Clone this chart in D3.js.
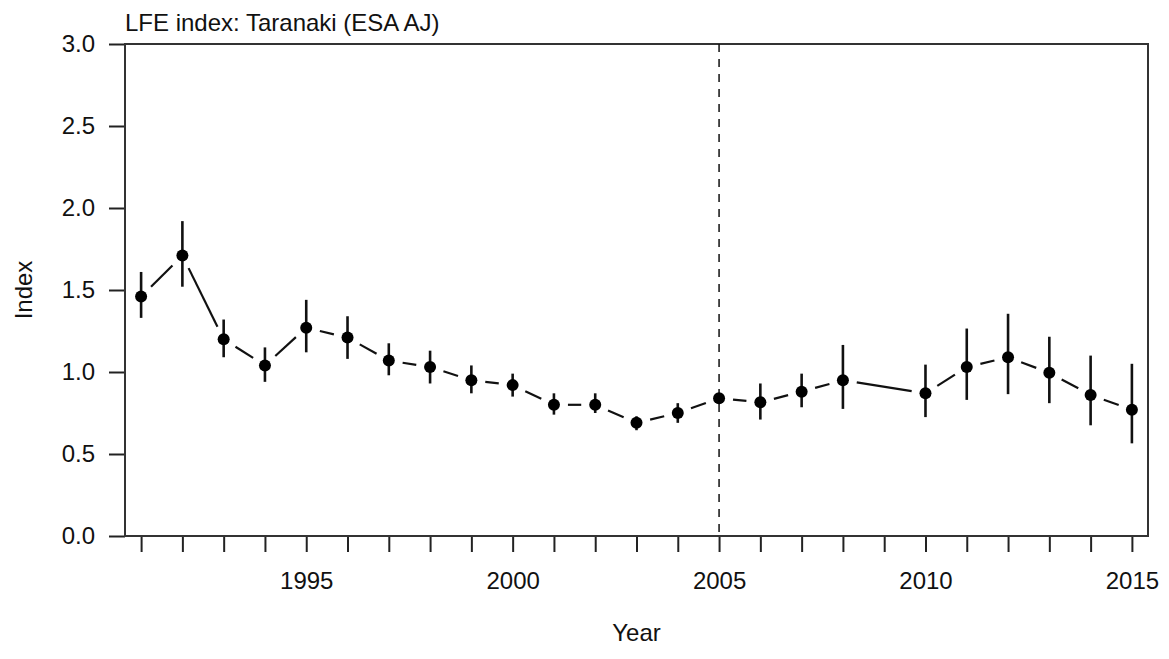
<!DOCTYPE html>
<html>
<head>
<meta charset="utf-8">
<script src="https://cdn.jsdelivr.net/npm/d3@7"></script>
<style>
  body { margin: 0; background: #fff; }
  text { font-family: "Liberation Sans", Arial, sans-serif; fill: #111; }
</style>
</head>
<body>
<script>
// Data (2009 has no estimate)
const years = [1991, 1992, 1993, 1994, 1995, 1996, 1997, 1998, 1999, 2000, 2001, 2002,
               2003, 2004, 2005, 2006, 2007, 2008, 2010, 2011, 2012, 2013, 2014, 2015];
const index = [1.46, 1.71, 1.20, 1.04, 1.27, 1.21, 1.07, 1.03, 0.95, 0.92, 0.80, 0.80,
               0.69, 0.75, 0.84, 0.815, 0.88, 0.95, 0.87, 1.03, 1.09, 0.995, 0.86, 0.77];
const lower = [1.33, 1.52, 1.09, 0.94, 1.12, 1.08, 0.98, 0.93, 0.87, 0.85, 0.74, 0.75,
               0.645, 0.69, null, 0.71, 0.785, 0.775, 0.725, 0.83, 0.865, 0.81, 0.675, 0.565];
const upper = [1.61, 1.92, 1.32, 1.15, 1.44, 1.34, 1.175, 1.13, 1.04, 0.99, 0.87, 0.87,
               0.73, 0.81, null, 0.93, 0.99, 1.165, 1.045, 1.265, 1.355, 1.215, 1.10, 1.05];
const yTicks = [0, 0.5, 1.0, 1.5, 2.0, 2.5, 3.0];
const xTicks = d3.range(1991, 2016);
const refYear = 2005;
const title = "LFE index: Taranaki (ESA AJ)";

const W = 1169, H = 659;
const box = { left: 125, right: 1148, top: 44, bottom: 536 };

const svg = d3.select("body").append("svg")
  .attr("width", W).attr("height", H);

const x = d3.scaleLinear().domain([1990.61, 2015.39]).range([box.left, box.right]);
const y = d3.scaleLinear().domain([0, 3]).range([box.bottom, box.top]);

// axes
const xAxis = d3.axisBottom(x)
  .tickValues(xTicks)
  .tickSize(16)
  .tickPadding(20)
  .tickFormat(d => d % 5 === 0 ? d : "");
const yAxis = d3.axisLeft(y)
  .tickValues(yTicks)
  .tickSize(16)
  .tickPadding(14)
  .tickFormat(d3.format(".1f"));

const gx = svg.append("g").attr("transform", `translate(0,${box.bottom})`).call(xAxis);
const gy = svg.append("g").attr("transform", `translate(${box.left},0)`).call(yAxis);
[gx, gy].forEach(g => {
  g.select(".domain").remove();
  g.selectAll(".tick line").attr("stroke", "#222").attr("stroke-width", 2);
  g.selectAll(".tick text").style("font-size", "24px").attr("fill", "#111");
});

// plot box
svg.append("rect")
  .attr("x", box.left).attr("y", box.top)
  .attr("width", box.right - box.left).attr("height", box.bottom - box.top)
  .attr("fill", "none").attr("stroke", "#333").attr("stroke-width", 2);

// reference year
svg.append("line")
  .attr("x1", x(refYear)).attr("x2", x(refYear))
  .attr("y1", box.top).attr("y2", box.bottom)
  .attr("stroke", "#111").attr("stroke-width", 1.5)
  .attr("stroke-dasharray", "8,7");

const pts = years.map((yr, i) => ({ yr, v: index[i], lo: lower[i], hi: upper[i] }));

// connecting segments, type="b" style with gaps round points
const gap = 14;
for (let i = 0; i < pts.length - 1; i++) {
  const x1 = x(pts[i].yr), y1 = y(pts[i].v);
  const x2 = x(pts[i + 1].yr), y2 = y(pts[i + 1].v);
  const len = Math.hypot(x2 - x1, y2 - y1);
  if (len <= 2 * gap) continue;
  const ux = (x2 - x1) / len, uy = (y2 - y1) / len;
  svg.append("line")
    .attr("x1", x1 + ux * gap).attr("y1", y1 + uy * gap)
    .attr("x2", x2 - ux * gap).attr("y2", y2 - uy * gap)
    .attr("stroke", "#111").attr("stroke-width", 2.2);
}

// error bars
svg.selectAll(".err")
  .data(pts.filter(d => d.lo != null))
  .enter().append("line")
  .attr("class", "err")
  .attr("x1", d => x(d.yr)).attr("x2", d => x(d.yr))
  .attr("y1", d => y(d.lo)).attr("y2", d => y(d.hi))
  .attr("stroke", "#111").attr("stroke-width", 2.6);

// points
svg.selectAll(".pt")
  .data(pts)
  .enter().append("circle")
  .attr("class", "pt")
  .attr("cx", d => x(d.yr)).attr("cy", d => y(d.v))
  .attr("r", 6).attr("fill", "#000");

// labels
svg.append("text")
  .attr("x", box.left).attr("y", 31)
  .style("font-size", "24px")
  .text(title);

svg.append("text")
  .attr("x", (box.left + box.right) / 2).attr("y", 641)
  .attr("text-anchor", "middle")
  .style("font-size", "24px")
  .text("Year");

svg.append("text")
  .attr("transform", `translate(32,${(box.top + box.bottom) / 2}) rotate(-90)`)
  .attr("text-anchor", "middle")
  .style("font-size", "24px")
  .text("Index");
</script>
</body>
</html>
